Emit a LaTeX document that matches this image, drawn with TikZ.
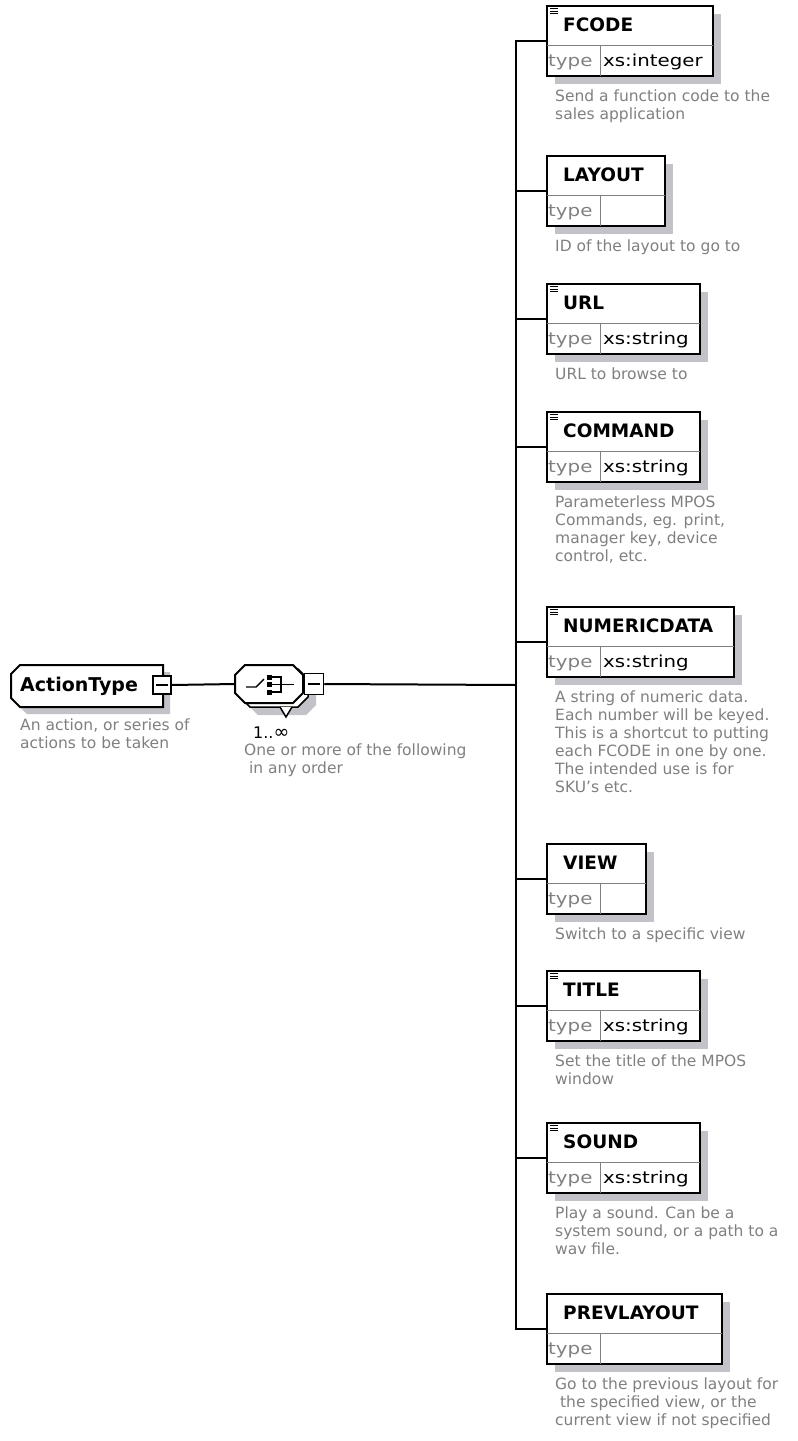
\documentclass[tikz,border=0pt]{standalone}
\usepackage{fontspec}
\setmainfont{DejaVu Sans}
\newfontfamily\typefont[FakeStretch=1.2]{DejaVu Sans}
\usetikzlibrary{calc}
\usetikzlibrary{shadows}

\definecolor{notegray}{RGB}{128,128,128}
\definecolor{shadegray}{RGB}{194,194,200}

\tikzset{
  link/.style={line width=2pt},
  elembox/.style={draw, line width=2pt, fill=white, minimum height=70pt, inner sep=0pt,
    anchor=north west, general shadow={fill=shadegray, shadow xshift=8pt, shadow yshift=-8pt}},
  elemname/.style={font=\fontsize{18.5}{20}\selectfont\bfseries, inner sep=0pt, anchor=west},
  typelabel/.style={font=\typefont\fontsize{16.5}{18}\selectfont, text=notegray, inner sep=0pt, anchor=west},
  typevalue/.style={typelabel, text=black},
  note/.style={font=\fontsize{15.5}{18}\selectfont, text=notegray, inner sep=0pt, anchor=north west, align=left},
  divider/.style={draw=notegray, line width=1pt, shorten <=1pt, shorten >=1pt},
  minusbox/.style={draw, line width=1.5pt, fill=white, minimum width=18pt, minimum height=18pt, inner sep=0pt}
}

% element box: name, top, width, label, type
\newcommand{\xsdelem}[5]{%
  \node (#1) [elembox, minimum width=#3pt] at (546,#2) {};
  \draw[divider] ($(#1.north west)+(0,40)$) -- ($(#1.north east)+(0,40)$);
  \draw[divider] ($(#1.north west)+(54,40)$) -- ($(#1.south west)+(54,0)$);
  \node (#1-name) [elemname] at ($(#1.north west)+(17,20)$) {#4};
  \node (#1-type) [typelabel] at ($(#1.south west)+(2,-15)$) {type};
  \node (#1-value) [typevalue] at ($(#1.south west)+(57,-15)$) {#5};
}
% the little "simple content" mark
\newcommand{\docmark}[1]{%
  \foreach \d in {3.5,6,8.5}
    {\draw[line width=1pt] ($(#1.north west)+(4,\d)$) -- ++(8,0);}%
}

\begin{document}
\begin{tikzpicture}[x=1pt, y=-1pt]
  \path[use as bounding box, fill=white] (0,0) rectangle (798,1441);

  % complex type
  \fill[shadegray] (27,672) -- (170,672) -- (170,714) -- (27,714) -- (18,705) -- (18,681) -- cycle;
  \draw[link, fill=white] (20,665) -- (163,665) -- (163,707) -- (20,707) -- (11,698) -- (11,674) -- cycle;
  \node (actiontype) [elemname, font=\fontsize{19}{20}\selectfont\bfseries] at (20,686) {ActionType};
  \node (typeminus) [minusbox] at (162,685) {};
  \draw[line width=1.2pt] ($(typeminus.west)+(4,0)$) -- ($(typeminus.east)+(-4,0)$);
  \node (actiontype-note) [note] at (20,719) {An action, or series of\\actions to be taken};

  % compositor, repeated
  \fill[shadegray] (258,677) -- (306,677) -- (316,687) -- (316,705) -- (306,715) -- (258,715) -- (248,705) -- (248,687) -- cycle;
  \draw[line width=1.5pt, fill=white] (250,669) -- (298,669) -- (308,679) -- (308,697) -- (298,707) -- (250,707) -- (240,697) -- (240,679) -- cycle;
  \draw[line width=1.5pt, fill=white] (280,707) -- (286,717) -- (292,707);
  \draw[link, fill=white] (245,665) -- (293,665) -- (303,675) -- (303,693) -- (293,703) -- (245,703) -- (235,693) -- (235,675) -- cycle;
  \node (seq) [inner sep=0pt, minimum width=68pt, minimum height=38pt] at (269,684) {};
  \draw[line width=1.4pt] (246,687) -- (256,687) -- (264,679);
  \foreach \y in {674.5,682,689.5}
    {\fill (266.5,\y) rectangle ++(5,5);}
  \draw[line width=1.4pt] (271,677) -- (281,677) -- (281,692) -- (271,692) (271,684.5) -- (294,684.5);
  \node (seqminus) [minusbox, minimum width=19pt, minimum height=21pt] at (314,684) {};
  \draw[line width=1.2pt] ($(seqminus.west)+(4,0)$) -- ($(seqminus.east)+(-4,0)$);
  \node (multi) [font=\fontsize{16}{18}\selectfont, inner sep=0pt, anchor=base west] at (253,738) {1..\fontsize{19}{18}\selectfont∞};
  \node (seq-note) [note] at (244,744) {One or more of the following\\~in any order};

  % child elements
  \xsdelem{fcode}{5}{166}{FCODE}{xs:integer}
  \xsdelem{layout}{155}{118}{LAYOUT}{}
  \xsdelem{url}{283}{153}{URL}{xs:string}
  \xsdelem{command}{411}{153}{COMMAND}{xs:string}
  \xsdelem{numeric}{606}{187}{NUMERICDATA}{xs:string}
  \xsdelem{view}{843}{99}{VIEW}{}
  \xsdelem{title}{970}{153}{TITLE}{xs:string}
  \xsdelem{sound}{1122}{153}{SOUND}{xs:string}
  \xsdelem{prevlayout}{1293}{175}{PREVLAYOUT}{}
  \foreach \e in {fcode,url,command,numeric,title,sound}
    {\docmark{\e}}

  \node (fcode-note) [note] at ($(fcode.south west)+(9,12.5)$) {Send a function code to the\\sales application};
  \node (layout-note) [note] at ($(layout.south west)+(9,12.5)$) {ID of the layout to go to};
  \node (url-note) [note] at ($(url.south west)+(9,12.5)$) {URL to browse to};
  \node (command-note) [note] at ($(command.south west)+(9,12.5)$) {Parameterless MPOS\\Commands, eg. print,\\manager key, device\\control, etc.};
  \node (numeric-note) [note] at ($(numeric.south west)+(9,12.5)$) {A string of numeric data.\\Each number will be keyed.\\This is a shortcut to putting\\each FCODE in one by one.\\The intended use is for\\SKU's etc.};
  \node (view-note) [note] at ($(view.south west)+(9,12.5)$) {Switch to a specific view};
  \node (title-note) [note] at ($(title.south west)+(9,12.5)$) {Set the title of the MPOS\\window};
  \node (sound-note) [note] at ($(sound.south west)+(9,12.5)$) {Play a sound. Can be a\\system sound, or a path to a\\wav file.};
  \node (prevlayout-note) [note] at ($(prevlayout.south west)+(9,12.5)$) {Go to the previous layout for\\~the specified view, or the\\current view if not specified};

  % connectors
  \coordinate (trunk) at (516,685);
  \draw[link] (typeminus.east) -- (seq.west);
  \draw[link] (seqminus.east) -- (trunk);
  \foreach \e in {fcode,layout,url,command,numeric,view,title,sound,prevlayout}
    {\draw[link] (trunk) |- (\e.west);}
\end{tikzpicture}
\end{document}
